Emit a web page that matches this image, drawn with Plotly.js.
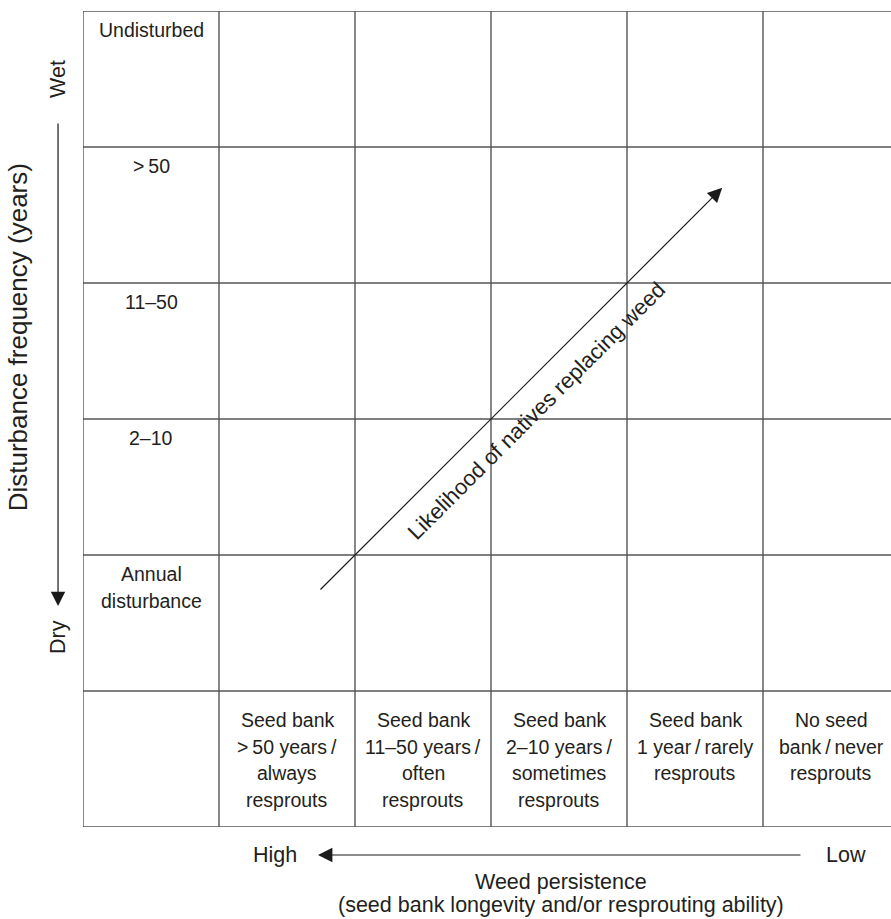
<!DOCTYPE html>
<html>
<head>
<meta charset="utf-8">
<script src="https://cdn.plot.ly/plotly-3.0.1.min.js"></script>
<style>html,body{margin:0;padding:0;background:#fff;}</style>
</head>
<body>
<div id="chart" style="width:891px;height:919px;"></div>
<script>
// ---- Data ----
const rowLabels = ["Undisturbed", "&gt;\u200950", "11–50", "2–10", "Annual<br>disturbance"];
const colLabels = [
  "Seed bank<br>&gt;\u200950 years\u2009/<br>always<br>resprouts",
  "Seed bank<br>11–50 years\u2009/<br>often<br>resprouts",
  "Seed bank<br>2–10 years\u2009/<br>sometimes<br>resprouts",
  "Seed bank<br>1 year\u2009/\u2009rarely<br>resprouts",
  "No seed<br>bank\u2009/\u2009never<br>resprouts"
];
const nCols = 6;
const nRows = 6;
const yTitle = "Disturbance frequency (years)";
const yTop = "Wet";
const yBottom = "Dry";
const xLeft = "High";
const xRight = "Low";
const xTitleLines = ["Weed persistence", "(seed bank longevity and/or resprouting ability)"];
const diagLabel = "Likelihood of natives replacing weed";
const diagFrom = [1.735, 1.735];
const diagTo = [4.70, 4.70];

// ---- Styling ----
const FONT = "'Liberation Sans', Arial, Helvetica, sans-serif";
const TXT = "#231f20";
const GRID = "#555555";
const cellSize = 19.5;

const shapes = [];
for (let i = 0; i <= nCols; i++) {
  shapes.push({type: "line", xref: "x", yref: "y", x0: i, x1: i, y0: 0, y1: nRows,
               line: {color: GRID, width: 1.4}});
}
for (let j = 0; j <= nRows; j++) {
  shapes.push({type: "line", xref: "x", yref: "y", x0: 0, x1: nCols, y0: j, y1: j,
               line: {color: GRID, width: 1.4}});
}

const annotations = [];
function addLines(text, xc, yTopData, firstOffset, spacing) {
  text.split("<br>").forEach((ln, k) => {
    annotations.push({
      xref: "x", yref: "y", x: xc, y: yTopData, text: ln, showarrow: false,
      xanchor: "center", yanchor: "middle", yshift: -(firstOffset + k * spacing),
      font: {family: FONT, size: cellSize, color: TXT}
    });
  });
}
rowLabels.forEach((t, i) => addLines(t, 0.5, nRows - i, 19, 27));
colLabels.forEach((t, j) => addLines(t, j + 1.5, 1, 29, 26.7));

// diagonal arrow
annotations.push({
  xref: "x", yref: "y", x: diagTo[0], y: diagTo[1], axref: "x", ayref: "y",
  ax: diagFrom[0], ay: diagFrom[1], text: "", showarrow: true,
  arrowhead: 2, arrowsize: 2.4, arrowwidth: 1.2, arrowcolor: "#1a1a1a", standoff: 0
});
annotations.push({
  xref: "x", yref: "y", x: 3.338, y: 3.059, text: diagLabel, showarrow: false,
  textangle: -45, xanchor: "center", yanchor: "middle",
  font: {family: FONT, size: 22, color: TXT}
});

// y-side labels and arrow
annotations.push({
  xref: "paper", yref: "paper", x: -0.0309, y: 0.2708, ax: 0, ay: -484,
  axref: "pixel", ayref: "pixel", text: "", showarrow: true,
  arrowhead: 2, arrowsize: 2.4, arrowwidth: 1.2, arrowcolor: "#1a1a1a", standoff: 0
});
annotations.push({xref: "paper", yref: "paper", x: -0.031, y: 0.9167, text: yTop,
  showarrow: false, textangle: -90, xanchor: "center", yanchor: "middle",
  font: {family: FONT, size: 21.5, color: TXT}});
annotations.push({xref: "paper", yref: "paper", x: -0.031, y: 0.2328, text: yBottom,
  showarrow: false, textangle: -90, xanchor: "center", yanchor: "middle",
  font: {family: FONT, size: 21.5, color: TXT}});
annotations.push({xref: "paper", yref: "paper", x: -0.080, y: 0.6005, text: yTitle,
  showarrow: false, textangle: -90, xanchor: "center", yanchor: "middle",
  font: {family: FONT, size: 26, color: TXT}});

// x-side labels and arrow
annotations.push({
  xref: "paper", yref: "paper", x: 0.2908, y: -0.0343, ax: 484, ay: 0,
  axref: "pixel", ayref: "pixel", text: "", showarrow: true,
  arrowhead: 2, arrowsize: 2.4, arrowwidth: 1.2, arrowcolor: "#1a1a1a", standoff: 0
});
annotations.push({xref: "paper", yref: "paper", x: 0.2376, y: -0.0343, text: xLeft,
  showarrow: false, xanchor: "center", yanchor: "middle",
  font: {family: FONT, size: 21.5, color: TXT}});
annotations.push({xref: "paper", yref: "paper", x: 0.944, y: -0.0343, text: xRight,
  showarrow: false, xanchor: "center", yanchor: "middle",
  font: {family: FONT, size: 21.5, color: TXT}});
const xTitleSizes = [21.5, 21.5];
xTitleLines.forEach((t, k) => {
  annotations.push({xref: "paper", yref: "paper", x: 0.5916, y: [-0.0674, -0.0950][k], text: t,
    showarrow: false, xanchor: "center", yanchor: "middle",
    font: {family: FONT, size: xTitleSizes[k], color: TXT}});
});

const layout = {
  width: 891, height: 919,
  margin: {l: 83, r: 0, t: 11, b: 92, pad: 0},
  paper_bgcolor: "#ffffff", plot_bgcolor: "#ffffff",
  showlegend: false,
  xaxis: {range: [0, 808 / 136], visible: false, fixedrange: true},
  yaxis: {range: [0, nRows], visible: false, fixedrange: true},
  shapes: shapes,
  annotations: annotations
};

Plotly.newPlot("chart", [{x: [], y: [], type: "scatter", mode: "markers", hoverinfo: "skip"}], layout,
  {staticPlot: true, displayModeBar: false});
</script>
</body>
</html>
